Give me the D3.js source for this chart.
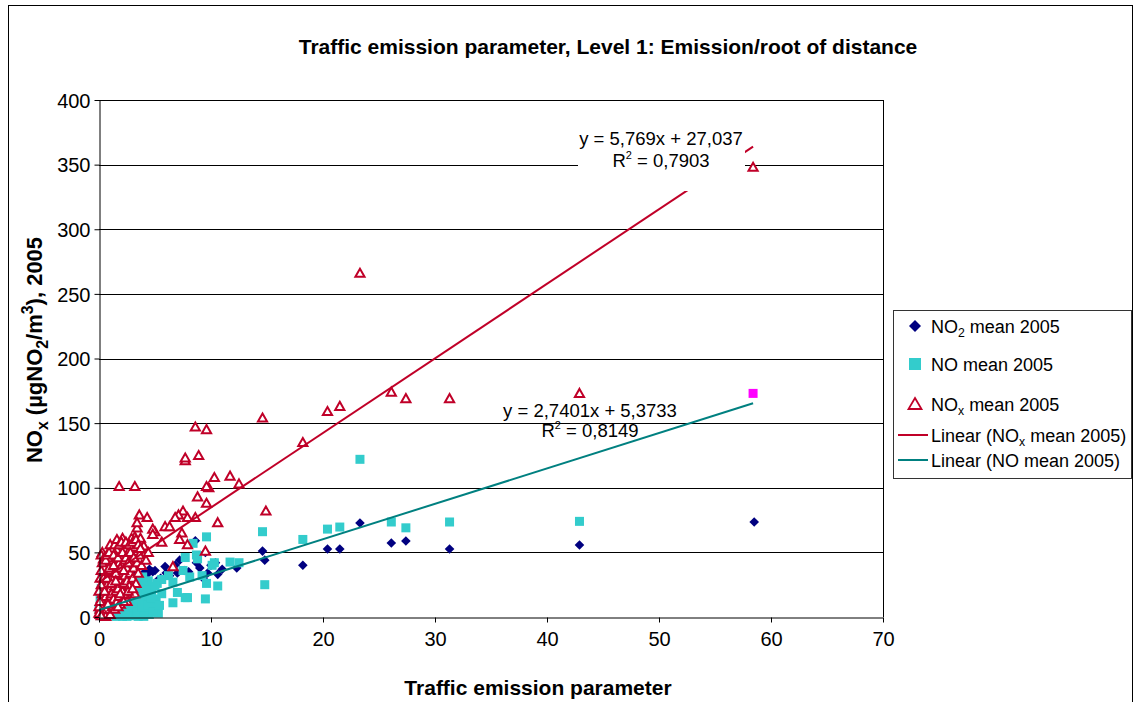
<!DOCTYPE html>
<html>
<head>
<meta charset="utf-8">
<script src="https://cdn.jsdelivr.net/npm/d3@7"></script>
<style>
  html, body { margin: 0; padding: 0; background: #fff; }
  svg { display: block; font-family: "Liberation Sans", Arial, sans-serif; }
</style>
</head>
<body>
<svg id="chart" width="1134" height="702"></svg>
<script>
// Station data: [traffic emission parameter, concentration]
const no2Mean = [
  [58.5,73.5],[42.9,55.7],[31.3,52.6],[27.4,58.8],[26.1,57.3],[23.3,72.7],[21.5,52.6],[20.4,52.6],
  [18.2,40],[14.6,51],[14.8,44],[12.3,38],[10.6,33],[10.4,42],[9.5,50],[8.7,42],[8.6,59],[7.6,36],
  [7.0,34],[5.9,39],[5.5,30],[4.8,35],[4.1,35],[3.4,29],[3.0,39],[1.7,39],[0.3,32],[9.7,34],
  [0.1,8],[0.2,14],[0.3,20],[0.4,12],[0.5,24],[0.6,16],[0.8,28],[0.9,18],[1.0,22],[1.2,26],
  [1.3,17],[1.5,30],[1.6,21],[1.8,25],[2.0,33],[2.1,19],[2.3,28],[2.5,24],[2.6,36],[2.8,30],
  [3.2,34],[3.5,31],[3.8,28],[4.3,33],[4.5,37],[5.0,36],[6.3,32],[6.8,40],[7.2,44],[8.0,35],
  [9.0,38],[9.3,30],[10.0,40],[11.0,37],[5.2,28],[6.0,34]
];
const noMean = [
  [42.9,74],[31.3,73.5],[27.4,69],[26.1,73.5],[23.3,122],[21.5,69.6],[20.4,68],[18.2,60],
  [14.6,66],[14.8,25],[12.5,42],[11.7,42.5],[10.6,24],[10.3,42],[9.6,62],[9.5,14],[9.6,26],
  [8.7,48],[8.4,57],[7.7,46],[7.9,15],[7.7,15],[6.6,11],[7.0,19],[6.2,32],[8.1,31],[6.6,27],
  [5.2,26],[4.3,23],[3.4,19],[2.8,13],[1.6,9],[1.0,6],[3.7,30],[7.5,36],[3.7,2],[2.1,0.5],
  [5.6,29],[9.2,32],[10.1,40],[8.8,45],
  [0.1,1],[0.2,4],[0.3,8],[0.4,2],[0.5,12],[0.6,5],[0.7,16],[0.8,3],[0.9,9],[1.0,20],
  [1.1,6],[1.2,14],[1.3,2],[1.4,10],[1.5,24],[1.6,8],[1.7,17],[1.8,4],[1.9,12],[2.0,28],
  [2.1,1],[2.2,9],[2.3,20],[2.4,5],[2.5,14],[2.6,2],[2.7,24],[2.8,10],[2.9,18],[3.0,6],
  [3.1,30],[3.2,1],[3.3,13],[3.4,22],[3.5,8],[3.6,3],[3.8,16],[4.0,26],[4.1,6],[4.3,12],
  [4.5,2],[4.7,20],[4.9,8],[5.1,14],[5.3,3],[0.0,6],[0.2,22],[0.4,28],[0.1,15],[0.6,25],
  [1.0,32],[1.3,30],[2.2,34],
  [0.3,14],[0.5,18],[0.7,10],[0.9,22],[1.1,13],[1.2,27],[1.4,18],[1.6,15],[1.8,20],[1.9,28],
  [2.0,6],[2.2,16],[2.4,26],[2.6,11],[2.8,22],[3.0,15],[3.2,26],[3.4,4],[3.6,12],[3.8,8],
  [4.0,18],[4.2,22],[4.4,9],[4.6,15],[4.8,4],[5.0,24],[0.5,0.5],[1.5,0.5],[2.5,0.5],[3.5,0.5],
  [4.0,0.5],[0.8,20],[1.3,24],[2.5,20],[4.4,28],[3.9,31],[5.4,9],[5.6,18]
];
// Highlighted NO station
const noHighlight = [[58.4,173]];
const noxMean = [
  [58.4,348],[42.9,173],[31.3,169],[27.4,169],[26.1,174],[23.3,266],[21.5,163],[20.4,159],
  [18.2,135],[14.6,154],[14.9,82],[12.5,103],[11.7,109],[10.6,73],[10.3,108],[9.8,100],[9.6,101],
  [9.6,145],[8.6,147],[8.9,125],[7.7,121],[7.7,123],[8.8,93],[9.6,88],[7.5,82],[8.6,77],[7.9,77],
  [7.1,79],[6.8,77],[7.4,65],[7.9,56],[9.5,51],[7.2,60],[6.6,39],[5.9,70],[6.3,70],[5.6,58],
  [5.0,66],[4.8,68],[4.8,64],[4.3,77],[3.6,79],[3.4,69],[3.4,73],[3.2,62],[3.7,61],[2.9,61],
  [2.1,61],[1.8,101],[3.2,101],[0.3,50],[0.2,48],[1.6,52],[2.3,53],[2.9,52],[3.4,51],[4.0,55],
  [0.1,2],[0.1,6],[0.2,10],[0.2,14],[0.3,4],[0.3,18],[0.4,8],[0.4,22],[0.5,12],[0.5,28],
  [0.6,16],[0.6,34],[0.7,6],[0.7,20],[0.8,26],[0.8,40],[0.9,14],[0.9,30],[1.0,10],[1.0,22],
  [1.0,36],[1.1,18],[1.1,44],[1.2,28],[1.2,8],[1.3,32],[1.3,14],[1.4,24],[1.4,40],[1.5,20],
  [1.5,46],[1.6,30],[1.6,12],[1.7,36],[1.7,22],[1.8,42],[1.8,16],[1.9,28],[2.0,34],[2.0,48],
  [2.1,20],[2.1,40],[2.2,26],[2.3,44],[2.3,32],[2.4,16],[2.5,38],[2.5,28],[2.6,50],[2.7,24],
  [2.8,42],[2.8,34],[2.9,20],[3.0,46],[3.0,30],[3.1,38],[3.2,54],[3.3,26],[3.4,42],[3.5,34],
  [3.6,48],[3.8,40],[4.2,44],[4.4,50],[0.0,3],[0.0,8],[0.1,12],[0.2,25],[0.3,32],[0.5,38],
  [0.8,46],[1.2,52],[0.4,45],[2.5,12],[3.2,18],[1.9,10],[0.6,0.5],[0.2,1],[0.1,30],[0.0,20],
  [0.2,36],[0.3,42],[0.4,30],[0.6,44],[0.7,48],[0.9,50],[1.0,56],[1.1,30],[1.3,48],[1.4,56],
  [1.5,34],[1.6,60],[1.7,46],[1.8,56],[1.9,38],[2.0,58],[2.1,50],[2.2,36],[2.4,46],[2.4,58],
  [2.6,42],[2.7,56],[2.8,50],[3.0,58],[3.1,46],[3.3,60],[3.5,56],[3.7,53],[0.5,20],[0.7,30],
  [0.9,38],[1.1,26],[1.3,40],[1.5,28],[1.9,18],[2.2,12],[2.6,20],[3.0,22],[1.0,2],[1.4,6],
  [0.8,10],[1.7,8]
];

// Linear trend coefficients [slope, intercept, R²]
const noxTrend = [5.769, 27.037, 0.7903];
const noTrend = [2.7401, 5.3733, 0.8149];
const trendXRange = [0, 58.4];

const xTicks = [0, 10, 20, 30, 40, 50, 60, 70];
const yTicks = [0, 50, 100, 150, 200, 250, 300, 350, 400];

const fmt = v => String(v).replace('.', ',');

const COL_NO2 = '#000080', COL_NO = '#33CCCC', COL_NOX = '#C00028', COL_NOTREND = '#008080', COL_HI = '#FF00FF';

const svg = d3.select('#chart');
const P = { left: 99, right: 883, top: 100, bottom: 617 };

const x = d3.scaleLinear().domain([0, 70]).range([P.left, P.right]);
const y = d3.scaleLinear().domain([0, 400]).range([P.bottom, P.top]);

// Outer chart frame
svg.append('rect').attr('x', 8.5).attr('y', 5.5).attr('width', 1124).attr('height', 740)
  .attr('fill', '#fff').attr('stroke', '#000').attr('stroke-width', 1);

// Horizontal gridlines
svg.append('g').selectAll('line').data(yTicks.filter(v => v > 0)).join('line')
  .attr('x1', P.left).attr('x2', P.right)
  .attr('y1', d => Math.round(y(d)) + 0.5).attr('y2', d => Math.round(y(d)) + 0.5)
  .attr('stroke', '#000').attr('stroke-width', 1);

// Plot frame (right side)
svg.append('line').attr('x1', P.right + 0.5).attr('x2', P.right + 0.5)
  .attr('y1', P.top).attr('y2', P.bottom).attr('stroke', '#000');

// Marker shapes
const diamond = 'M0,-4.8L4.8,0L0,4.8L-4.8,0Z';
const tri = 'M0,-4.5L4.6,3.6L-4.6,3.6Z';

const marks = svg.append('g');
marks.selectAll('path.no2').data(no2Mean).join('path').attr('class', 'no2')
  .attr('d', diamond).attr('transform', d => `translate(${x(d[0])},${y(d[1])})`)
  .attr('fill', COL_NO2);
marks.selectAll('rect.no').data(noMean).join('rect').attr('class', 'no')
  .attr('x', d => x(d[0]) - 4.5).attr('y', d => y(d[1]) - 4.5)
  .attr('width', 9).attr('height', 9).attr('fill', COL_NO);
marks.selectAll('rect.hi').data(noHighlight).join('rect').attr('class', 'hi')
  .attr('x', d => x(d[0]) - 4.5).attr('y', d => y(d[1]) - 4.5)
  .attr('width', 9).attr('height', 9).attr('fill', COL_HI);
marks.selectAll('path.nox').data(noxMean).join('path').attr('class', 'nox')
  .attr('d', tri).attr('transform', d => `translate(${x(d[0])},${y(d[1])})`)
  .attr('fill', '#fff').attr('stroke', COL_NOX).attr('stroke-width', 2);

// Trend lines
function trendLine(c, color) {
  const pts = trendXRange.map(v => [v, c[0] * v + c[1]]);
  svg.append('line')
    .attr('x1', x(pts[0][0])).attr('y1', y(pts[0][1]))
    .attr('x2', x(pts[1][0])).attr('y2', y(pts[1][1]))
    .attr('stroke', color).attr('stroke-width', 2);
}
trendLine(noxTrend, COL_NOX);
trendLine(noTrend, COL_NOTREND);

// Equation labels
function eqLabel(c, cx, by, gap, box) {
  const g = svg.append('g');
  if (box) g.append('rect').attr('x', box[0]).attr('y', box[1]).attr('width', box[2]).attr('height', box[3]).attr('fill', '#fff');
  g.append('text').attr('x', cx).attr('y', by).attr('text-anchor', 'middle')
    .attr('font-size', 18.5).text(`y = ${fmt(c[0])}x + ${fmt(c[1])}`);
  const t = g.append('text').attr('x', cx).attr('y', by + gap).attr('text-anchor', 'middle').attr('font-size', 18.5);
  t.append('tspan').text('R');
  t.append('tspan').attr('dy', -8).attr('font-size', 11).text('2');
  t.append('tspan').attr('dy', 8).text(` = ${fmt(c[2])}`);
}
eqLabel(noxTrend, 661, 145, 22, [578, 128, 167, 63]);
eqLabel(noTrend, 590, 417, 20, null);

// Axes
const xAxis = d3.axisBottom(x).tickValues(xTicks).tickSize(5).tickPadding(6).tickSizeOuter(0);
const gx = svg.append('g').attr('transform', `translate(0,${P.bottom + 0.5})`).call(xAxis);
const yAxis = d3.axisLeft(y).tickValues(yTicks).tickSize(5).tickPadding(4).tickSizeOuter(0);
const gy = svg.append('g').attr('transform', `translate(${P.left + 0.5},0)`).call(yAxis);
[gx, gy].forEach(g => {
  g.selectAll('text').attr('font-size', 20).attr('fill', '#000')
    .attr('font-family', '"Liberation Sans", Arial, sans-serif');
  g.selectAll('line,path').attr('stroke', '#000');
});
gx.selectAll('text').attr('dy', '0.85em');
gy.selectAll('text').attr('dy', '0.36em');

// Titles
svg.append('text').attr('x', 608).attr('y', 54).attr('text-anchor', 'middle')
  .attr('font-size', 21).attr('font-weight', 'bold')
  .text('Traffic emission parameter, Level 1: Emission/root of distance');
svg.append('text').attr('x', 538).attr('y', 695).attr('text-anchor', 'middle')
  .attr('font-size', 21).attr('font-weight', 'bold').text('Traffic emission parameter');

// Rich text helper (sub/superscripts)
function rich(sel, parts, size, ratio = 0.68) {
  let shift = 0;
  parts.forEach(p => {
    const ts = sel.append('tspan');
    const target = p.sub ? size * 0.25 : p.sup ? -size * 0.42 : 0;
    ts.attr('dy', target - shift);
    shift = target;
    if (p.sub || p.sup) ts.attr('font-size', size * ratio);
    ts.text(p.t);
  });
}

const yt = svg.append('text').attr('transform', 'translate(42,350) rotate(-90)')
  .attr('text-anchor', 'middle').attr('font-size', 22).attr('font-weight', 'bold');
rich(yt, [{ t: 'NO' }, { t: 'x', sub: true }, { t: ' (µgNO' }, { t: '2', sub: true },
  { t: '/m' }, { t: '3', sup: true }, { t: '), 2005' }], 22, 0.72);

// Legend
const L = svg.append('g');
L.append('rect').attr('x', 893.5).attr('y', 310.5).attr('width', 238).attr('height', 168)
  .attr('fill', '#fff').attr('stroke', '#333');
const legendRows = [
  { y: 326, kind: 'diamond', parts: [{ t: 'NO' }, { t: '2', sub: true }, { t: ' mean 2005' }] },
  { y: 364, kind: 'square', parts: [{ t: 'NO mean 2005' }] },
  { y: 404, kind: 'tri', parts: [{ t: 'NO' }, { t: 'x', sub: true }, { t: ' mean 2005' }] },
  { y: 435, kind: 'line', color: COL_NOX, parts: [{ t: 'Linear (NO' }, { t: 'x', sub: true }, { t: ' mean 2005)' }] },
  { y: 460, kind: 'line', color: COL_NOTREND, parts: [{ t: 'Linear (NO mean 2005)' }] }
];
legendRows.forEach(r => {
  const mx = 915;
  if (r.kind === 'diamond') L.append('path').attr('d', 'M0,-6L6,0L0,6L-6,0Z').attr('fill', COL_NO2).attr('transform', `translate(${mx},${r.y})`);
  if (r.kind === 'square') L.append('rect').attr('x', mx - 6).attr('y', r.y - 6).attr('width', 12).attr('height', 12).attr('fill', COL_NO);
  if (r.kind === 'tri') L.append('path').attr('d', 'M0,-6L6.5,5L-6.5,5Z').attr('fill', '#fff').attr('stroke', COL_NOX).attr('stroke-width', 1.8).attr('transform', `translate(${mx},${r.y})`);
  if (r.kind === 'line') L.append('line').attr('x1', 898).attr('x2', 928).attr('y1', r.y).attr('y2', r.y).attr('stroke', r.color).attr('stroke-width', 2);
  const t = L.append('text').attr('x', 931).attr('y', r.y + 6.5).attr('font-size', 18);
  rich(t, r.parts, 18);
});
</script>
</body>
</html>
